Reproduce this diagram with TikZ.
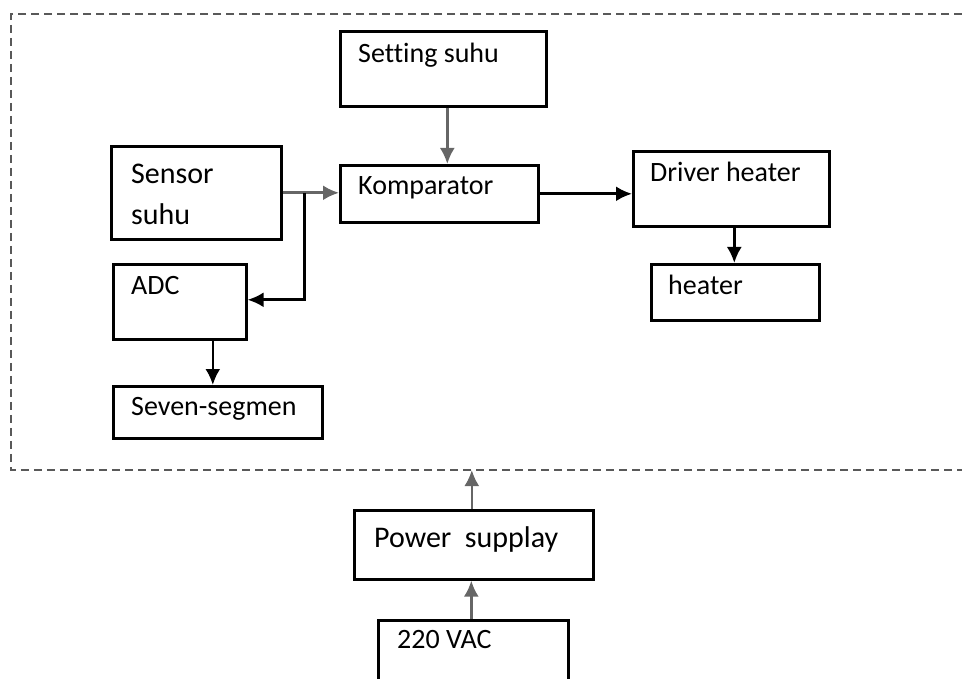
\documentclass[tikz,border=0pt]{standalone}
\usepackage{fontspec}
\setmainfont{Carlito}[Ligatures=NoCommon]
\usetikzlibrary{arrows.meta,calc}
\begin{document}
\begin{tikzpicture}[x=1pt,y=-1pt,
  box/.style={draw=black, line width=2.6pt, anchor=north west, inner sep=0pt, rectangle},
  lbl/.style={anchor=base west, inner sep=0pt, font=\fontsize{28}{30}\selectfont},
  biglbl/.style={anchor=base west, inner sep=0pt, font=\fontsize{30}{40}\selectfont},
  arr/.style={line width=2.6pt, -{Latex[length=16pt,width=15pt]}},
  garr/.style={arr, draw=black!60},
  frame/.style={line width=2.4pt, draw=black!65, dash pattern=on 8pt off 5pt}]
\useasboundingbox (0,0) rectangle (962,679);
% dashed frame (right side runs off the picture)
\draw[frame] (975,14) -- (11,14) -- (11,470) -- (975,470);
\coordinate (fb) at (470,470);
% boxes
\node[box, minimum width=206pt, minimum height=75pt] (set) at (339,30) {};
\node[box, minimum width=170pt, minimum height=93pt] (sen) at (110,145) {};
\node[box, minimum width=198pt, minimum height=57pt] (komp) at (339,164) {};
\node[box, minimum width=196pt, minimum height=75pt] (drv) at (632,150) {};
\node[box, minimum width=168pt, minimum height=56pt] (heat) at (650,263) {};
\node[box, minimum width=133pt, minimum height=75pt] (adc) at (112,263) {};
\node[box, minimum width=209pt, minimum height=52pt] (seven) at (112,385) {};
\node[box, minimum width=239pt, minimum height=69pt] (ps) at (353,509) {};
\node[box, minimum width=190pt, minimum height=75pt] (vac) at (377,619) {};
% labels
\node[lbl] (tset) at (358,63) {Setting suhu};
\node[biglbl] (tsen1) at (131,184) {Sensor};
\node[biglbl] (tsen2) at (131,225) {suhu};
\node[lbl] (tkomp) at (358,195) {Komparator};
\node[lbl] (tdrv) at (650,182) {Driver heater};
\node[lbl] (theat) at (668,295) {heater};
\node[lbl] (tadc) at (131,295) {ADC};
\node[lbl] (tseven) at (131,415) {Seven-segmen};
\node[biglbl] (tps) at (374,547) {Power\ \ supplay};
\node[lbl] (tvac) at (397,648) {220 VAC};
% connectors
\draw[garr] ([xshift=4pt]set.south) -- ([xshift=4pt]set.south |- komp.north);
\draw[garr] (sen.east) -- (sen.east -| komp.west);
\draw[arr] ([xshift=22pt]sen.east) |- ([yshift=2pt]adc.east);
\draw[arr] (komp.east) -- (komp.east -| drv.west);
\draw[arr] ([xshift=3pt]drv.south) -- ([xshift=3pt]drv.south |- heat.north);
\draw[arr] ([xshift=-5pt]seven.north |- adc.south) -- ([xshift=-5pt]seven.north);
\draw[garr] ([xshift=-2pt]ps.north) -- ([xshift=-2pt]ps.north |- fb);
\draw[garr] ([xshift=-2pt]vac.north) -- ([xshift=-2pt]vac.north |- ps.south);
\end{tikzpicture}
\end{document}
